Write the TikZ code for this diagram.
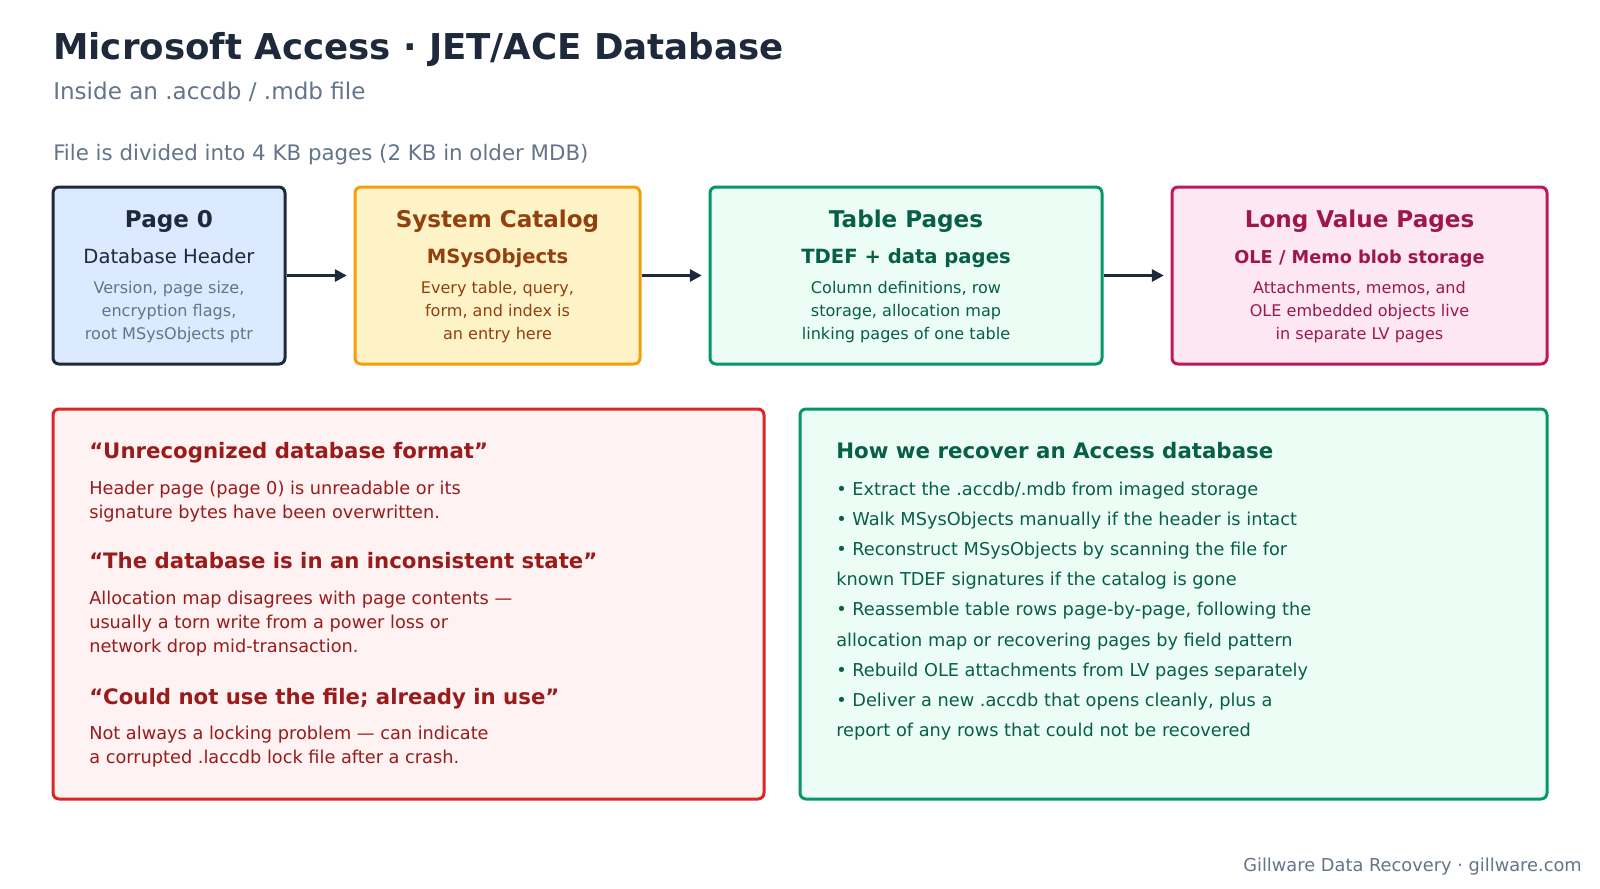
\documentclass[tikz,border=0pt]{standalone}
\usepackage{fontspec}
\setmainfont{DejaVu Sans}
\usetikzlibrary{arrows.meta}

\definecolor{ink}{HTML}{1E293B}
\definecolor{muted}{HTML}{64748B}
\definecolor{hdrfill}{HTML}{DBEAFE}
\definecolor{catfill}{HTML}{FEF3C7}
\definecolor{catline}{HTML}{F59E0B}
\definecolor{cattext}{HTML}{92400E}
\definecolor{tblfill}{HTML}{ECFDF5}
\definecolor{tblline}{HTML}{059669}
\definecolor{tbltext}{HTML}{065F46}
\definecolor{lvfill}{HTML}{FCE7F3}
\definecolor{lvline}{HTML}{BE185D}
\definecolor{lvtext}{HTML}{9D174D}
\definecolor{errfill}{HTML}{FEF2F2}
\definecolor{errline}{HTML}{DC2626}
\definecolor{errtext}{HTML}{991B1B}

\begin{document}
\begin{tikzpicture}[x=0.75pt, y=-0.75pt,
  pagebox/.style={draw, line width=2.25pt, rounded corners=4.5pt, minimum height=132.75pt, inner sep=0pt},
  infobox/.style={draw, line width=2.25pt, rounded corners=4.5pt, minimum height=292.5pt, inner sep=0pt},
  flow/.style={-{Triangle[length=9pt,width=9pt]}, line width=2.25pt, ink, shorten >=5pt},
  boxtitle/.style={anchor=mid, inner sep=0pt, font=\fontsize{17.3}{20}\selectfont\bfseries},
  boxsub/.style={anchor=mid, inner sep=0pt, font=\fontsize{14.7}{17}\selectfont},
  boxdesc/.style={anchor=center, inner sep=0pt, align=center, font=\fontsize{12.05}{17.25}\selectfont},
  errhead/.style={anchor=mid west, inner sep=0pt, text=errtext, font=\fontsize{15.95}{19}\selectfont\bfseries},
  errbody/.style={anchor=west, inner sep=0pt, align=left, text=errtext, font=\fontsize{13.3}{18}\selectfont}
]
  % Canvas
  \fill[white] (0,0) rectangle (1600,889);
  \useasboundingbox (0,0) rectangle (1600,889);

  % Heading
  \node[anchor=mid west, inner sep=0pt, text=ink, font=\fontsize{26.7}{30}\selectfont\bfseries] (title) at (53,56)
    {Microsoft Access · JET/ACE Database};
  \node[anchor=mid west, inner sep=0pt, text=muted, font=\fontsize{17.3}{20}\selectfont] (subtitle) at (53,96)
    {Inside an .accdb / .mdb file};
  \node[anchor=mid west, inner sep=0pt, text=muted, font=\fontsize{16}{19}\selectfont] (pagesnote) at (53,157)
    {File is divided into 4 KB pages (2 KB in older MDB)};

  % Page chain
  \node[pagebox, draw=ink, fill=hdrfill, minimum width=174pt] (hdr) at (169,275.5) {};
  \node[pagebox, draw=catline, fill=catfill, minimum width=213.75pt] (cat) at (497.5,275.5) {};
  \node[pagebox, draw=tblline, fill=tblfill, minimum width=294pt] (tbl) at (906,275.5) {};
  \node[pagebox, draw=lvline, fill=lvfill, minimum width=281.25pt] (lv) at (1359.5,275.5) {};

  \node[boxtitle, text=ink] (hdrtitle) at (169,224) {Page 0};
  \node[boxsub, text=ink] (hdrsub) at (169,260) {Database Header};
  \node[boxdesc, text=muted] (hdrdesc) at (169,312)
    {Version, page size,\\encryption flags,\\root MSysObjects ptr};

  \node[boxtitle, text=cattext] (cattitle) at (497.5,224) {System Catalog};
  \node[boxsub, text=cattext, font=\fontsize{14.7}{17}\selectfont\bfseries] (catsub) at (497.5,260) {MSysObjects};
  \node[boxdesc, text=cattext] (catdesc) at (497.5,312)
    {Every table, query,\\form, and index is\\an entry here};

  \node[boxtitle, text=tbltext] (tbltitle) at (906,224) {Table Pages};
  \node[boxsub, text=tbltext, font=\fontsize{14.7}{17}\selectfont\bfseries] (tblsub) at (906,260) {TDEF + data pages};
  \node[boxdesc, text=tbltext] (tbldesc) at (906,312)
    {Column definitions, row\\storage, allocation map\\linking pages of one table};

  \node[boxtitle, text=lvtext] (lvtitle) at (1359.5,224) {Long Value Pages};
  \node[boxsub, text=lvtext, font=\fontsize{13.3}{17}\selectfont\bfseries] (lvsub) at (1359.5,260) {OLE / Memo blob storage};
  \node[boxdesc, text=lvtext] (lvdesc) at (1359.5,312)
    {Attachments, memos, and\\OLE embedded objects live\\in separate LV pages};

  \draw[flow] (hdr) -- (cat);
  \draw[flow] (cat) -- (tbl);
  \draw[flow] (tbl) -- (lv);

  % Error messages
  \node[infobox, draw=errline, fill=errfill, minimum width=533.25pt] (errors) at (408.5,604) {};
  \node[errhead] (err1) at (89,455) {“Unrecognized database format”};
  \node[errbody] (err1txt) at (89,502)
    {Header page (page 0) is unreadable or its\\signature bytes have been overwritten.};
  \node[errhead] (err2) at (89,565) {“The database is in an inconsistent state”};
  \node[errbody] (err2txt) at (89,624)
    {Allocation map disagrees with page contents —\\usually a torn write from a power loss or\\network drop mid-transaction.};
  \node[errhead] (err3) at (89,701) {“Could not use the file; already in use”};
  \node[errbody] (err3txt) at (89,747)
    {Not always a locking problem — can indicate\\a corrupted .laccdb lock file after a crash.};

  % Recovery steps
  \node[infobox, draw=tblline, fill=tblfill, minimum width=560.25pt] (recovery) at (1173.5,604) {};
  \node[errhead, text=tbltext, font=\fontsize{16}{19}\selectfont\bfseries] (rechead) at (836,455) {How we recover an Access database};
  \node[errbody, text=tbltext, font=\fontsize{13.3}{22.65}\selectfont] (recsteps) at (836,611)
    {• Extract the .accdb/.mdb from imaged storage\\
     • Walk MSysObjects manually if the header is intact\\
     • Reconstruct MSysObjects by scanning the file for\\
     known TDEF signatures if the catalog is gone\\
     • Reassemble table rows page-by-page, following the\\
     allocation map or recovering pages by field pattern\\
     • Rebuild OLE attachments from LV pages separately\\
     • Deliver a new .accdb that opens cleanly, plus a\\
     report of any rows that could not be recovered};

  % Footer
  \node[anchor=mid east, inner sep=0pt, text=muted, font=\fontsize{13.35}{16}\selectfont] (credit) at (1582,868)
    {Gillware Data Recovery · gillware.com};
\end{tikzpicture}
\end{document}
